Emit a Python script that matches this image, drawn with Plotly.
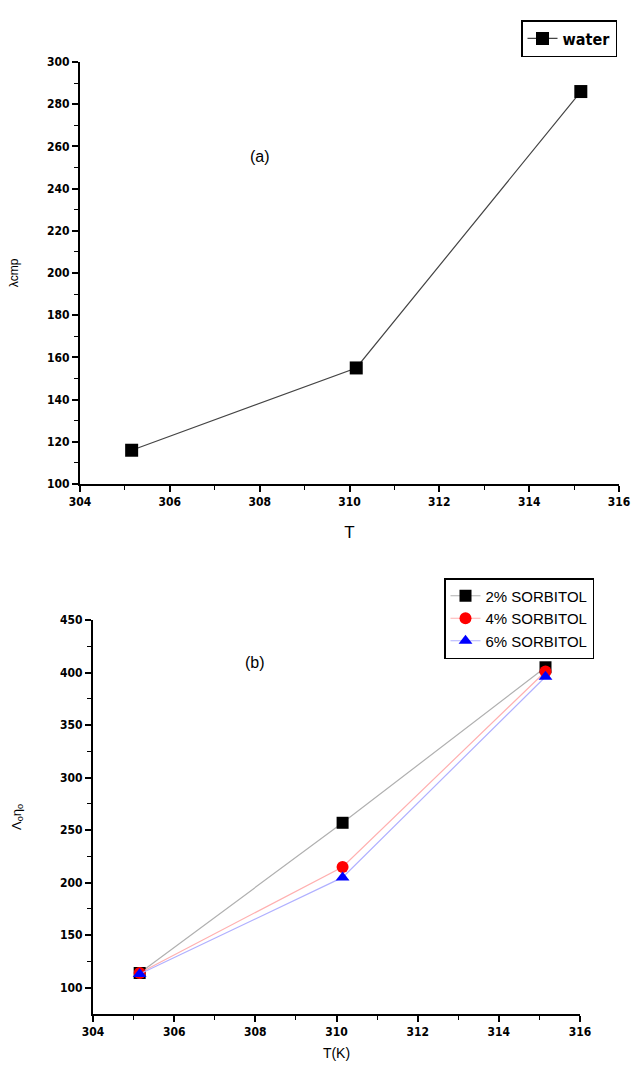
import plotly.graph_objects as go

# Temperatures (K)
temps = [305.15, 310.15, 315.15]

# Panel (a): water
water = [116, 155, 286]

# Panel (b): sorbitol solutions
sorb_2 = [114, 257, 405]
sorb_4 = [114, 215, 401]
sorb_6 = [113, 205, 396]

W, H = 635, 1068

def fx(px):
    return px / W

def fy(py):
    return 1 - py / H

fig = go.Figure()

fig.add_trace(go.Scatter(
    x=temps, y=water, mode="lines+markers", name="water",
    line=dict(color="#444444", width=1.2),
    marker=dict(symbol="square", size=13, color="black"),
    xaxis="x", yaxis="y", legend="legend",
))

series_b = [
    ("2% SORBITOL", sorb_2, "#b0b0b0", "black", "square", 12),
    ("4% SORBITOL", sorb_4, "#ffb0b0", "red", "circle", 12),
    ("6% SORBITOL", sorb_6, "#b0b0ff", "blue", "triangle-up", 12),
]
for name, vals, lc, mc, sym, ms in series_b:
    fig.add_trace(go.Scatter(
        x=temps, y=vals, mode="lines+markers", name=name,
        line=dict(color=lc, width=1.2),
        marker=dict(symbol=sym, size=ms, color=mc),
        xaxis="x2", yaxis="y2", legend="legend2",
    ))

narrow = "DejaVu Sans Condensed, Liberation Sans Narrow, sans-serif"
tickfont = dict(family=narrow, size=12, color="black", weight="bold")
axis_common = dict(
    showline=True, linecolor="black", linewidth=2, mirror=False,
    ticks="outside", ticklen=6, tickwidth=1.5, tickcolor="black",
    showgrid=False, zeroline=False, tickfont=tickfont, automargin=False,
)
minor_style = dict(ticks="outside", ticklen=4, tickwidth=1.2, tickcolor="black")

fig.update_layout(
    width=W, height=H,
    margin=dict(l=0, r=0, t=0, b=0, autoexpand=False),
    paper_bgcolor="white", plot_bgcolor="white",
    xaxis=dict(
        domain=[fx(80), fx(619)], anchor="y", range=[304, 316],
        tickvals=[304, 306, 308, 310, 312, 314, 316],
        minor=dict(tickvals=[305, 307, 309, 311, 313, 315], **minor_style),
        title=dict(text="T", font=dict(family="Liberation Sans, Arial, sans-serif", size=17, color="black"), standoff=18),
        **axis_common,
    ),
    yaxis=dict(
        domain=[fy(484), fy(62)], anchor="x", range=[100, 300],
        tickvals=list(range(100, 301, 20)),
        minor=dict(tickvals=list(range(110, 300, 20)), **minor_style),
        title=dict(text="λcmp", font=dict(family="Liberation Sans, Arial, sans-serif", size=12, color="black"), standoff=26),
        **axis_common,
    ),
    xaxis2=dict(
        domain=[fx(93), fx(580)], anchor="y2", range=[304, 316],
        tickvals=[304, 306, 308, 310, 312, 314, 316],
        minor=dict(tickvals=[305, 307, 309, 311, 313, 315], **minor_style),
        title=dict(text="T(K)", font=dict(family="Liberation Sans, Arial, sans-serif", size=14, color="black"), standoff=10),
        **axis_common,
    ),
    yaxis2=dict(
        domain=[fy(1014), fy(620)], anchor="x2", range=[75, 450],
        tickvals=list(range(100, 451, 50)),
        minor=dict(tickvals=list(range(125, 450, 50)), **minor_style),
        title=dict(text="Λ<sub>o</sub>η<sub>o</sub>", font=dict(family="Liberation Sans, Arial, sans-serif", size=13, color="black"), standoff=36),
        **axis_common,
    ),
    legend=dict(
        x=fx(521), y=fy(20), xanchor="left", yanchor="top",
        bordercolor="black", borderwidth=1.5, bgcolor="white",
        font=dict(family=narrow, size=16, color="black", weight="bold"),
        itemwidth=30, tracegroupgap=0,
    ),
    legend2=dict(
        x=fx(444), y=fy(578), xanchor="left", yanchor="top",
        bordercolor="black", borderwidth=1.5, bgcolor="white",
        font=dict(family="Liberation Sans, Arial, sans-serif", size=15, color="black"),
        itemwidth=30, tracegroupgap=0,
    ),
    showlegend=True,
    annotations=[
        dict(text="(a)", x=308.0, y=255, xref="x", yref="y", showarrow=False,
             font=dict(family="Liberation Sans, Arial, sans-serif", size=16, color="black")),
        dict(text="(b)", x=308.0, y=410, xref="x2", yref="y2", showarrow=False,
             font=dict(family="Liberation Sans, Arial, sans-serif", size=16, color="black")),
    ],
)

fig.write_html("out.html")
